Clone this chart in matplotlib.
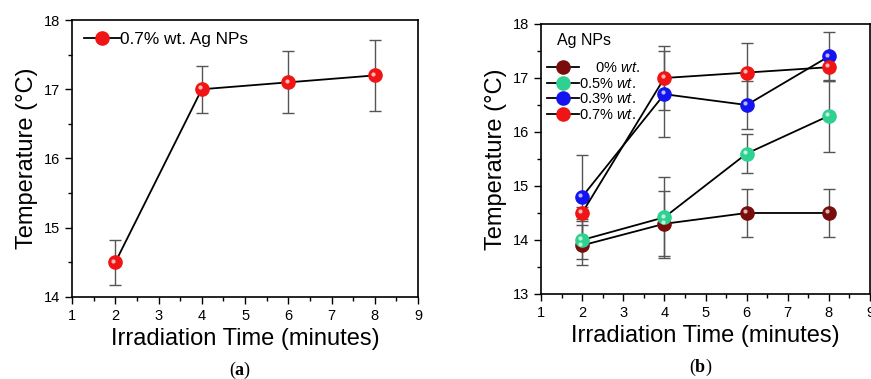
import numpy as np
import matplotlib.pyplot as plt
from matplotlib.ticker import MultipleLocator
from matplotlib.transforms import offset_copy

plt.rcParams['font.family'] = ['Liberation Sans', 'DejaVu Sans']
plt.rcParams['mathtext.fontset'] = 'custom'
plt.rcParams['mathtext.rm'] = 'Liberation Sans'
plt.rcParams['mathtext.it'] = 'Liberation Sans:italic'
plt.rcParams['mathtext.bf'] = 'Liberation Serif:bold'

time = [2, 4, 6, 8]

# panel (a)
temp_a = [14.5, 17.0, 17.1, 17.2]
err_a = [0.32, 0.34, 0.45, 0.51]

# panel (b)
labels_b = ['    0% $\\mathit{wt.}$', '0.5% $\\mathit{wt.}$', '0.3% $\\mathit{wt.}$', '0.7% $\\mathit{wt.}$']
temp_b = [
    [13.9, 14.3, 14.5, 14.5],
    [14.0, 14.42, 15.6, 16.3],
    [14.8, 16.7, 16.5, 17.4],
    [14.5, 17.0, 17.1, 17.2],
]
err_b = [
    [0.37, 0.6, 0.45, 0.45],
    [0.35, 0.75, 0.36, 0.67],
    [0.78, 0.8, 0.45, 0.45],
    [0.12, 0.6, 0.55, 0.25],
]
colors_b = ['#7a0c0c', '#2ed18f', '#1414f0', '#f01414']


def style_axes(ax, ylim):
    ax.set_xlim(1, 9)
    ax.set_ylim(*ylim)
    ax.xaxis.set_major_locator(MultipleLocator(1))
    ax.xaxis.set_minor_locator(MultipleLocator(0.5))
    ax.yaxis.set_major_locator(MultipleLocator(1))
    ax.yaxis.set_minor_locator(MultipleLocator(0.5))
    ax.tick_params(which='major', direction='out', length=5, width=1, labelsize=10.5,
                   top=False, right=False)
    ax.tick_params(which='minor', direction='out', length=3, width=1, top=False, right=False)
    for s in ax.spines.values():
        s.set_linewidth(1.2)
    ax.set_xlabel('Irradiation Time (minutes)', fontsize=17, labelpad=4)
    ax.set_ylabel('Temperature (°C)', fontsize=17, labelpad=4)


def glossy(ax, x, y, color, label=None):
    ax.plot(x, y, '-', color='black', lw=1.3, marker='o', ms=9.5,
            mfc=color, mec=color, label=label, zorder=3)
    hl = offset_copy(ax.transData, fig=ax.figure, x=-1.3, y=1.3, units='points')
    ax.plot(x, y, 'o', ms=3, mfc='white', mec='none', alpha=0.7, zorder=4, transform=hl)


fig = plt.figure(figsize=(8.71, 3.79), dpi=100)

ax1 = fig.add_axes([0.0827, 0.2164, 0.3973, 0.7308])
ax1.errorbar(time, temp_a, yerr=err_a, fmt='none', ecolor='#555555', elinewidth=1,
             capsize=4, capthick=1, zorder=2)
glossy(ax1, time, temp_a, '#f01414', label='0.7% wt. Ag NPs')
style_axes(ax1, (14, 18))
ax1.legend(loc='upper left', frameon=False, fontsize=12.4, handlelength=2.1,
           handletextpad=0.0, borderaxespad=0.3)

ax2 = fig.add_axes([0.6211, 0.2243, 0.3778, 0.7124])
for t, e, c, lab in zip(temp_b, err_b, colors_b, labels_b):
    ax2.errorbar(time, t, yerr=e, fmt='none', ecolor='#555555', elinewidth=1,
                 capsize=4, capthick=1, zorder=2)
    glossy(ax2, time, t, c, label=lab)
style_axes(ax2, (13, 18))
ax2.legend(loc='upper left', frameon=False, fontsize=10.5, handlelength=2.2,
           handletextpad=0.0, labelspacing=0.12, borderaxespad=0.0,
           bbox_to_anchor=(0.0, 0.885))
ax2.text(0.05, 0.965, 'Ag NPs', transform=ax2.transAxes, fontsize=11.5, va='top')

fig.text(0.2755, 0.012, '($\\mathbf{a}$)', ha='center', fontsize=13, family='Liberation Serif')
fig.text(0.804, 0.018, '($\\mathbf{b}$)', ha='center', fontsize=13, family='Liberation Serif')

fig.savefig('out.png', dpi=100)
